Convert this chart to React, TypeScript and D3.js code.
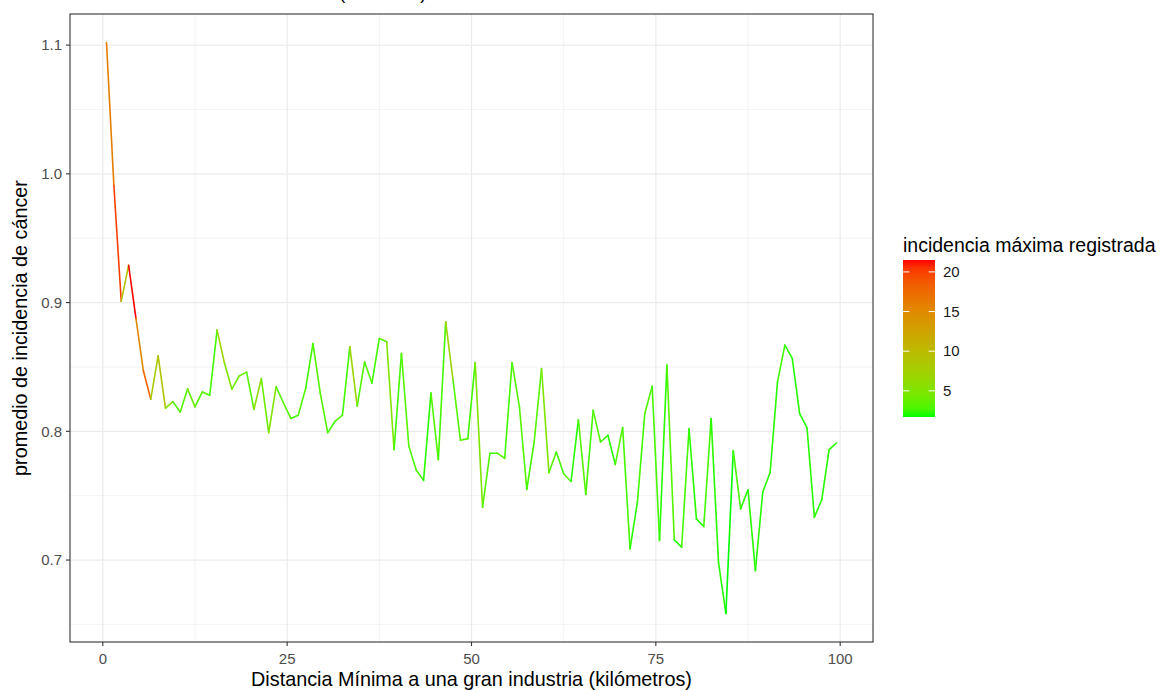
import { useRef, useEffect } from "react";
import * as d3 from "d3";

// distancia mínima (km), punto medio de cada tramo
const distancia = [
  0.5, 1.5, 2.5, 3.5, 4.5, 5.5, 6.5, 7.5, 8.5, 9.5,
  10.5, 11.5, 12.5, 13.5, 14.5, 15.5, 16.5, 17.5, 18.5, 19.5,
  20.5, 21.5, 22.5, 23.5, 24.5, 25.5, 26.5, 27.5, 28.5, 29.5,
  30.5, 31.5, 32.5, 33.5, 34.5, 35.5, 36.5, 37.5, 38.5, 39.5,
  40.5, 41.5, 42.5, 43.5, 44.5, 45.5, 46.5, 47.5, 48.5, 49.5,
  50.5, 51.5, 52.5, 53.5, 54.5, 55.5, 56.5, 57.5, 58.5, 59.5,
  60.5, 61.5, 62.5, 63.5, 64.5, 65.5, 66.5, 67.5, 68.5, 69.5,
  70.5, 71.5, 72.5, 73.5, 74.5, 75.5, 76.5, 77.5, 78.5, 79.5,
  80.5, 81.5, 82.5, 83.5, 84.5, 85.5, 86.5, 87.5, 88.5, 89.5,
  90.5, 91.5, 92.5, 93.5, 94.5, 95.5, 96.5, 97.5, 98.5, 99.5,
];

// promedio de incidencia de cáncer
const promedio = [
  1.102, 0.991, 0.901, 0.929, 0.8875, 0.847, 0.825, 0.8586, 0.818, 0.823,
  0.815, 0.833, 0.819, 0.8306, 0.828, 0.8786, 0.853, 0.8327, 0.843, 0.846,
  0.817, 0.841, 0.799, 0.8345, 0.822, 0.81, 0.8125, 0.833, 0.8682, 0.8293,
  0.799, 0.8078, 0.8125, 0.8656, 0.8195, 0.8539, 0.8376, 0.8721, 0.8695, 0.7857,
  0.8605, 0.7886, 0.77, 0.7619, 0.8298, 0.778, 0.885, 0.8397, 0.793, 0.7943,
  0.8535, 0.741, 0.783, 0.783, 0.779, 0.8535, 0.819, 0.7549, 0.7917, 0.8488,
  0.7679, 0.784, 0.767, 0.761, 0.809, 0.751, 0.8163, 0.7917, 0.7969, 0.7743,
  0.803, 0.7087, 0.745, 0.8138, 0.835, 0.7152, 0.8514, 0.7157, 0.71, 0.802,
  0.732, 0.726, 0.81, 0.698, 0.6585, 0.785, 0.7398, 0.7546, 0.6918, 0.7528,
  0.768, 0.8384, 0.8669, 0.8566, 0.8138, 0.8028, 0.7333, 0.7468, 0.7857, 0.7909,
];

// incidencia máxima registrada
const maxima = [
  16, 20, 9, 21.5, 15, 18, 8, 9, 5, 3,
  3, 4, 3, 3, 2.5, 7, 5, 4, 4, 3,
  6, 4, 5, 3, 3, 2.5, 3, 2.5, 3, 3,
  2.5, 3, 2.5, 7, 3, 3, 2.5, 3, 5, 2.5,
  3, 3, 2.5, 2, 3, 2.5, 7, 3, 3, 2.5,
  5, 3, 2.5, 3, 2.5, 3, 3, 2.5, 3, 5,
  3, 2.5, 3, 2, 3, 2.5, 3, 2.5, 2, 3,
  2.5, 2, 2.5, 3, 2.5, 2, 3, 2, 2.5, 2,
  2, 2.5, 2, 2, 1.7, 2.5, 2, 2, 2, 2,
  2, 2.5, 2, 2, 2, 2, 2, 2, 2, 2,
];

const xTicks = [0, 25, 50, 75, 100];
const xMinor = [12.5, 37.5, 62.5, 87.5];
const yTicks = [0.7, 0.8, 0.9, 1.0, 1.1];
const yMinor = [0.65, 0.75, 0.85, 0.95, 1.05];
const legendTicks = [5, 10, 15, 20];

const W = 1161;
const H = 690;
const font = "'Liberation Sans', Arial, Helvetica, sans-serif";

export default function App() {
  const svgRef = useRef<SVGSVGElement>(null);

  useEffect(() => {
    if (!svgRef.current) return;
    const svg = d3.select(svgRef.current);
    svg.selectAll("*").remove();

    const left = 70, right = 873, top = 14, bottom = 642;

    const xExt = d3.extent(distancia) as [number, number];
    const xPad = (xExt[1] - xExt[0]) * 0.05;
    const x = d3.scaleLinear().domain([xExt[0] - xPad, xExt[1] + xPad]).range([left, right]);

    const yExt = d3.extent(promedio) as [number, number];
    const yPad = (yExt[1] - yExt[0]) * 0.05;
    const y = d3.scaleLinear().domain([yExt[0] - yPad, yExt[1] + yPad]).range([bottom, top]);

    const cExt = d3.extent(maxima) as [number, number];
    const color = d3.scaleSequential(d3.interpolateLab("#00ff00", "#ff0000")).domain(cExt);

    // title (mostly above the visible area)
    svg.append("text")
      .attr("x", left).attr("y", -1)
      .attr("font-family", font).attr("font-size", 18).attr("fill", "#000")
      .text("Incidencia de cáncer vs distancia (1-100 km)");

    // panel
    svg.append("rect")
      .attr("x", left).attr("y", top).attr("width", right - left).attr("height", bottom - top)
      .attr("fill", "#fff");

    const grid = svg.append("g").attr("stroke", "#ebebeb").attr("fill", "none");
    grid.selectAll(".xm").data(xMinor).join("line")
      .attr("x1", (d) => x(d)).attr("x2", (d) => x(d)).attr("y1", top).attr("y2", bottom)
      .attr("stroke-width", 0.6);
    grid.selectAll(".ym").data(yMinor).join("line")
      .attr("y1", (d) => y(d)).attr("y2", (d) => y(d)).attr("x1", left).attr("x2", right)
      .attr("stroke-width", 0.6);
    grid.selectAll(".xM").data(xTicks).join("line")
      .attr("x1", (d) => x(d)).attr("x2", (d) => x(d)).attr("y1", top).attr("y2", bottom)
      .attr("stroke-width", 1.2);
    grid.selectAll(".yM").data(yTicks).join("line")
      .attr("y1", (d) => y(d)).attr("y2", (d) => y(d)).attr("x1", left).attr("x2", right)
      .attr("stroke-width", 1.2);

    // line, each segment coloured by its starting point
    const segs = distancia.slice(0, -1).map((d, i) => ({
      x1: d, y1: promedio[i], x2: distancia[i + 1], y2: promedio[i + 1], c: maxima[i],
    }));
    svg.append("g").selectAll("line").data(segs).join("line")
      .attr("x1", (d) => x(d.x1)).attr("y1", (d) => y(d.y1))
      .attr("x2", (d) => x(d.x2)).attr("y2", (d) => y(d.y2))
      .attr("stroke", (d) => color(d.c))
      .attr("stroke-width", 1.6)
      .attr("stroke-linecap", "round");

    // border
    svg.append("rect")
      .attr("x", left).attr("y", top).attr("width", right - left).attr("height", bottom - top)
      .attr("fill", "none").attr("stroke", "#333333").attr("stroke-width", 1.1);

    // axes
    const ax = svg.append("g");
    ax.selectAll(".xt").data(xTicks).join("line")
      .attr("x1", (d) => x(d)).attr("x2", (d) => x(d)).attr("y1", bottom).attr("y2", bottom + 4)
      .attr("stroke", "#333333").attr("stroke-width", 1.1);
    ax.selectAll(".xl").data(xTicks).join("text")
      .attr("x", (d) => x(d)).attr("y", 664)
      .attr("text-anchor", "middle")
      .attr("font-family", font).attr("font-size", 15).attr("fill", "#4d4d4d")
      .text((d) => d3.format("d")(d));
    ax.selectAll(".yt").data(yTicks).join("line")
      .attr("y1", (d) => y(d)).attr("y2", (d) => y(d)).attr("x1", left - 4).attr("x2", left)
      .attr("stroke", "#333333").attr("stroke-width", 1.1);
    ax.selectAll(".yl").data(yTicks).join("text")
      .attr("x", left - 8).attr("y", (d) => y(d))
      .attr("dy", "0.35em")
      .attr("text-anchor", "end")
      .attr("font-family", font).attr("font-size", 15).attr("fill", "#4d4d4d")
      .text((d) => d3.format(".1f")(d));

    svg.append("text")
      .attr("x", (left + right) / 2).attr("y", 686)
      .attr("text-anchor", "middle")
      .attr("font-family", font).attr("font-size", 19.8).attr("fill", "#000")
      .text("Distancia Mínima a una gran industria (kilómetros)");
    svg.append("text")
      .attr("transform", `translate(27,${(top + bottom) / 2}) rotate(-90)`)
      .attr("text-anchor", "middle")
      .attr("font-family", font).attr("font-size", 19.8).attr("fill", "#000")
      .text("promedio de incidencia de cáncer");

    // legend
    const lx = 903, lw = 32, ly0 = 260, ly1 = 417;
    const ly = d3.scaleLinear().domain(cExt).range([ly1, ly0]);
    const defs = svg.append("defs");
    const grad = defs.append("linearGradient").attr("id", "cbar")
      .attr("x1", 0).attr("y1", 1).attr("x2", 0).attr("y2", 0);
    d3.range(0, 1.0001, 0.05).forEach((t) => {
      grad.append("stop").attr("offset", t)
        .attr("stop-color", color(cExt[0] + t * (cExt[1] - cExt[0])));
    });
    svg.append("text")
      .attr("x", 903).attr("y", 252)
      .attr("font-family", font).attr("font-size", 19.5).attr("fill", "#000")
      .text("incidencia máxima registrada");
    svg.append("rect")
      .attr("x", lx).attr("y", ly0).attr("width", lw).attr("height", ly1 - ly0)
      .attr("fill", "url(#cbar)");
    const lt = svg.append("g");
    lt.selectAll(".la").data(legendTicks).join("line")
      .attr("x1", lx).attr("x2", lx + lw / 5).attr("y1", (d) => ly(d)).attr("y2", (d) => ly(d))
      .attr("stroke", "#fff").attr("stroke-width", 1);
    lt.selectAll(".lb").data(legendTicks).join("line")
      .attr("x1", lx + lw - lw / 5).attr("x2", lx + lw).attr("y1", (d) => ly(d)).attr("y2", (d) => ly(d))
      .attr("stroke", "#fff").attr("stroke-width", 1);
    lt.selectAll("text").data(legendTicks).join("text")
      .attr("x", 943).attr("y", (d) => ly(d)).attr("dy", "0.35em")
      .attr("font-family", font).attr("font-size", 15).attr("fill", "#1a1a1a")
      .text((d) => d);
  }, []);

  return (
    <div style={{ position: "absolute", left: 0, top: 0, width: W, height: H, background: "#fff" }}>
      <svg ref={svgRef} width={W} height={H} />
    </div>
  );
}
